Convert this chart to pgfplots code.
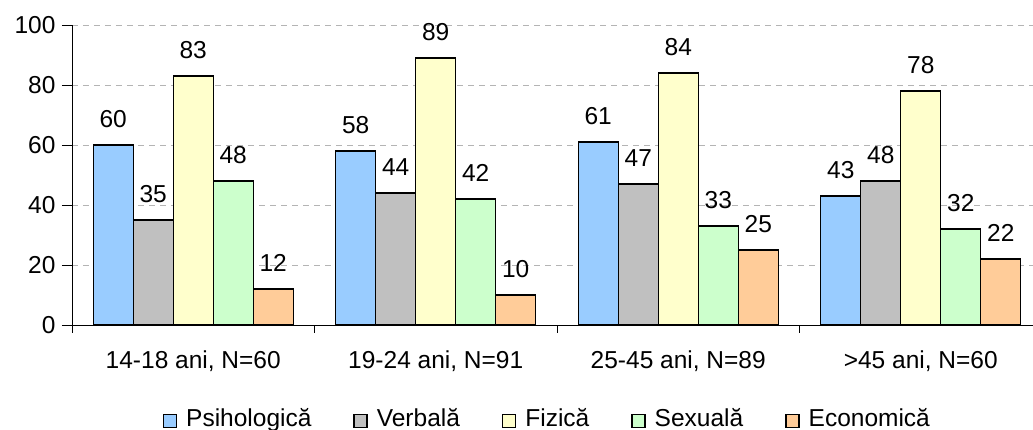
\documentclass[border=0pt]{standalone}
\usepackage{pgfplots}
\pgfplotsset{compat=1.18}
\usepackage{fontspec}
\setmainfont{Liberation Sans}

\definecolor{cPsi}{HTML}{99CCFF}
\definecolor{cVer}{HTML}{C0C0C0}
\definecolor{cFiz}{HTML}{FFFFCC}
\definecolor{cSex}{HTML}{CCFFCC}
\definecolor{cEco}{HTML}{FFCC99}
\definecolor{gridgray}{HTML}{B4B4B4}

\pgfplotsset{
    ybar legend/.style={
        legend image code/.code={\draw[##1, draw=black, line width=1.4pt] (0pt,-1pt) rectangle (13pt,12pt);},
    },
}

\begin{document}
\begin{tikzpicture}[font=\fontsize{24.5}{29}\selectfont]
\useasboundingbox (-72pt,-105pt) rectangle (961pt,325pt);

\begin{axis}[
    scale only axis,
    width=970pt,
    height=300pt,
    xmin=-0.5, xmax=3.5,
    ymin=0, ymax=100,
    axis x line*=bottom,
    axis y line*=left,
    axis line style={black, line width=0.8pt},
    ybar=0pt,
    bar width=40pt,
    xtick={0,1,2,3},
    xticklabels={{14-18 ani, N=60},{19-24 ani, N=91},{25-45 ani, N=89},{>45 ani, N=60}},
    x tick style={draw=none},
    minor xtick={-0.5,0.5,1.5,2.5,3.5},
    minor x tick style={draw=black, line width=0.8pt},
    minor tick length=8pt,
    ytick={0,20,40,60,80,100},
    y tick style={black, line width=0.8pt},
    major tick length=10pt,
    tick align=outside,
    ymajorgrids=true,
    grid style={gridgray, dash pattern=on 6pt off 5pt, line width=0.8pt},
    xticklabel style={anchor=base, yshift=-34pt},
    yticklabel style={xshift=-3pt},
    /pgf/number format/assume math mode=true,
    every axis plot/.append style={draw=black, line width=1.4pt},
    nodes near coords,
    nodes near coords style={black, yshift=13pt},
    legend columns=-1,
    legend style={
        at={(0.489,-0.345)}, anchor=south,
        draw=none, fill=none, inner sep=0pt,
        nodes={inner sep=0pt, anchor=base},
        /tikz/every odd column/.append style={column sep=9pt},
        /tikz/every even column/.append style={column sep=42pt},
    },
]

\addplot[fill=cPsi] coordinates {(0,60) (1,58) (2,61) (3,43)};
\addplot[fill=cVer] coordinates {(0,35) (1,44) (2,47) (3,48)};
\addplot[fill=cFiz] coordinates {(0,83) (1,89) (2,84) (3,78)};
\addplot[fill=cSex] coordinates {(0,48) (1,42) (2,33) (3,32)};
\addplot[fill=cEco] coordinates {(0,12) (1,10) (2,25) (3,22)};

\legend{Psihologică, Verbală, Fizică, Sexuală, Economică}
\end{axis}
\end{tikzpicture}
\end{document}
